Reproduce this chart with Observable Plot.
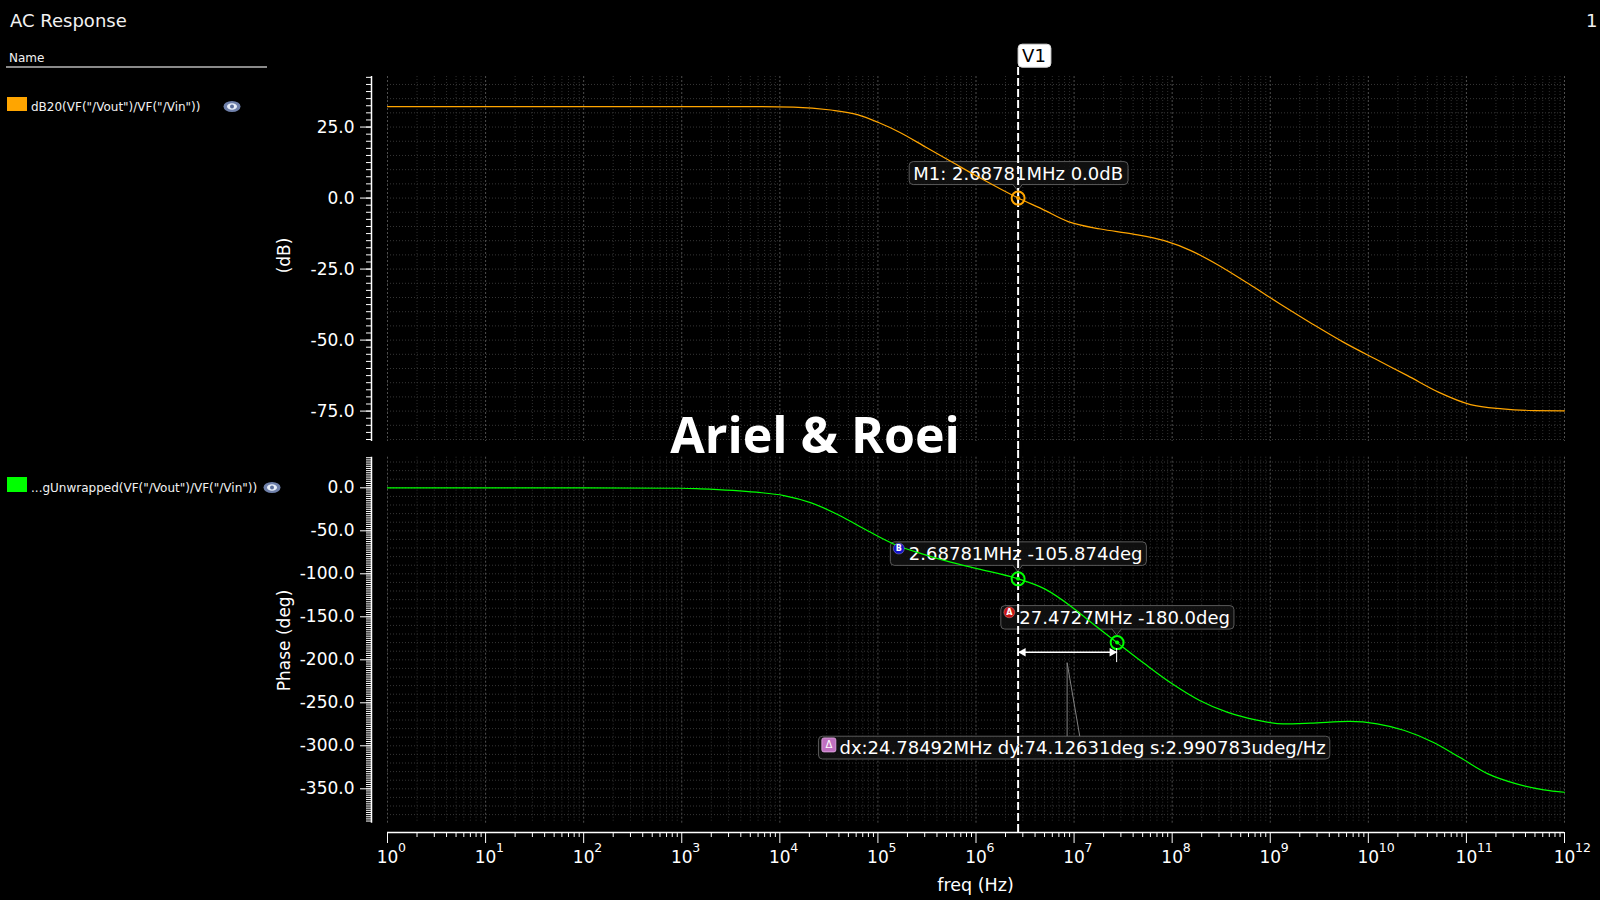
<!DOCTYPE html>
<html><head><meta charset="utf-8">
<script src="https://cdn.jsdelivr.net/npm/d3@7"></script>
<script src="https://cdn.jsdelivr.net/npm/@observablehq/plot@0.6"></script>
<style>
html,body{margin:0;padding:0;background:#000;}
#root{position:relative;width:1600px;height:900px;background:#000;overflow:hidden;font-family:"DejaVu Sans",sans-serif;color:#f2f2f2;}
.abs{position:absolute;line-height:1;white-space:nowrap;}
#top,#bottom{position:absolute;left:0;}
#top{top:0}#bottom{top:450px}
#wm{position:absolute;left:815px;top:409px;transform:translateX(-50%);font-family:"Open Sans",sans-serif;font-weight:700;font-size:50px;line-height:1;color:#fff;white-space:nowrap;}
</style></head><body>
<div id="root">
  <div id="top"></div><div id="bottom"></div>
  <div class="abs" style="left:10px;top:11.8px;font-size:18px">AC Response</div>
  <div class="abs" style="left:1586px;top:11.5px;font-size:18px">1</div>
  <div class="abs" style="left:9px;top:51.8px;font-size:12px">Name</div>
  <div style="position:absolute;left:6px;top:66px;width:261px;height:2px;background:#8a8a8a"></div>
  <div id="legend"></div>
  <div id="wm">Ariel &amp; Roei</div>
</div>
<script>
// ---------- data ----------
const magFreq = [1, 10, 100, 1e3, 3.98e3, 1.38e4, 3.31e4, 6.17e4, 1e5, 1.66e5, 3.09e5, 5.75e5, 1.07e6, 2.68781e6, 4.68e6, 8.71e6, 1.86e7, 3.89e7, 8.32e7, 1.55e8, 2.82e8, 6.03e8, 1.26e9, 2.69e9, 5.62e9, 1.17e10, 2.51e10, 5.25e10, 1.10e11, 2.34e11, 4.90e11, 1e12];
const magDb = [32.2, 32.2, 32.2, 32.2, 32.2, 32.0, 31.0, 29.4, 26.7, 23.2, 17.9, 12.6, 7.3, 0.0, -3.8, -8.3, -10.9, -12.6, -15.0, -18.5, -23.2, -30.2, -37.3, -44.3, -50.8, -56.6, -62.5, -68.4, -72.7, -74.2, -74.8, -74.9];
const phFreq = [1, 10, 100, 1e3, 1.55e3, 5.75e3, 1.1e4, 2.09e4, 4.07e4, 7.76e4, 1.48e5, 2.82e5, 5.5e5, 1.05e6, 2.68781e6, 5.01e6, 9.55e6, 1.41e7, 2.74727e7, 5.25e7, 1e8, 1.91e8, 3.63e8, 7.08e8, 1.35e9, 2.57e9, 6.46e9, 1.23e10, 2.34e10, 4.57e10, 8.71e10, 1.66e11, 3.24e11, 6.17e11, 1e12];
const phDeg = [0, 0, 0, -0.5, -1.2, -5.1, -9, -17.5, -32.2, -49.7, -65.9, -76.8, -86.5, -94.2, -105.874, -117.5, -138.8, -154.3, -180.0, -204.7, -227.9, -247.3, -260.9, -269.8, -274.5, -273.7, -271.7, -274.5, -282.2, -295.8, -314, -332.6, -344.2, -351.2, -354];

const seriesNames = ['dB20(VF("/Vout")/VF("/Vin"))', '...gUnwrapped(VF("/Vout")/VF("/Vin"))'];
const seriesColors = ["#FFA500", "#00FF00"];
const dbTicks = [25, 0, -25, -50, -75];
const phaseTicks = [0, -50, -100, -150, -200, -250, -300, -350];
const decadeExp = [0,1,2,3,4,5,6,7,8,9,10,11,12];
const yLabelTop = "(dB)";
const yLabelBottom = "Phase (deg)";
const xLabel = "freq (Hz)";

const v1 = [{label: "V1", freq: 2.68781e6}];
const m1 = [{freq: 2.68781e6, db: 0.0, text: "M1: 2.68781MHz 0.0dB"}];
const phaseMarkers = [
  {id: "B", freq: 2.68781e6, deg: -105.874, text: "2.68781MHz -105.874deg", color: "#1414c8"},
  {id: "A", freq: 27.4727e6, deg: -180.0, text: "27.4727MHz -180.0deg", color: "#c81414"}
];
const deltaLabel = [{freq: Math.sqrt(phaseMarkers[0].freq * phaseMarkers[1].freq), deg: phaseMarkers[1].deg,
  text: "dx:24.78492MHz dy:74.12631deg s:2.990783udeg/Hz"}];
const arrowData = [{x1: phaseMarkers[0].freq, x2: phaseMarkers[1].freq, y: phaseMarkers[1].deg}];

// ---------- helpers ----------
const xMajor = decadeExp.map(e => 10 ** e);
const xMinor = d3.range(0, 12).flatMap(e => d3.range(2, 10).map(k => k * 10 ** e));
const dbGrid = d3.range(40, -86, -5);
const dbMinor = d3.range(42.5, -86, -2.5);
const phGrid = d3.range(30, -390, -10);
const phMinor = d3.range(35, -390, -2.5);

function eye(left, top) {
  return `<svg style="position:absolute;left:${left}px;top:${top}px" width="18" height="13"><ellipse cx="9" cy="6.5" rx="8.5" ry="5.5" fill="#6f80aa"/><ellipse cx="9" cy="6.5" rx="5" ry="3.3" fill="#e8eef8"/><circle cx="9" cy="6.5" r="2" fill="#5a6d99"/></svg>`;
}
const legendRows = [{top: 97, textTop: 100.8, h: 14, eye: 223, eyeTop: 100}, {top: 477, textTop: 482.3, h: 15, eye: 263, eyeTop: 481}];
document.getElementById("legend").innerHTML = seriesNames.map((n, i) =>
  `<div style="position:absolute;left:7px;top:${legendRows[i].top}px;width:20px;height:${legendRows[i].h}px;background:${seriesColors[i]}"></div>` +
  `<div class="abs" style="left:31px;top:${legendRows[i].textTop}px;font-size:12px"></div>` + eye(legendRows[i].eye, legendRows[i].eyeTop)).join("");
document.querySelectorAll("#legend .abs").forEach((d, i) => d.textContent = seriesNames[i]);

const style = {background: "transparent", color: "white", fontFamily: "DejaVu Sans", fontSize: "17px", overflow: "visible"};
const gridMinor = {stroke: "#303030", strokeDasharray: "1,2"};
const gridMajor = {stroke: "#4e4e4e", strokeDasharray: "2,2"};
const gridH = {stroke: "#363636", strokeDasharray: "1,2"};

// ---------- top panel ----------
const topPlot = Plot.plot({
  width: 1600, height: 450, marginLeft: 371, marginRight: 36, marginTop: 76, marginBottom: 9,
  style,
  x: {type: "log", domain: [1, 1e12], insetLeft: 16, axis: null},
  y: {domain: [-85.7, 42.8]},
  marks: [
    Plot.ruleX(xMinor, gridMinor),
    Plot.ruleX(xMajor, gridMajor),
    Plot.ruleY(dbGrid, {insetLeft: 16, ...gridH}),
    Plot.ruleX([1], {dx: -16, stroke: "white", strokeWidth: 1.5}),
    Plot.axisY(dbMinor, {anchor: "left", tickSize: 5, tickFormat: () => "", label: null, stroke: "white"}),
    Plot.axisY(dbTicks, {anchor: "left", tickSize: 11, tickPadding: 6, tickFormat: d => d.toFixed(1), label: null, stroke: "white", fontSize: 17}),
    Plot.text([yLabelTop], {frameAnchor: "left", textAnchor: "middle", lineAnchor: "middle", rotate: -90, dx: -87, dy: -3.5, fontSize: 17, fill: "white"}),
    Plot.text(m1, {x: "freq", y: "db", text: "text", textAnchor: "middle", lineAnchor: "bottom", dy: -18, fontSize: 18, fill: "white", className: "lbl-plain"}),
    Plot.line(magFreq, {x: magFreq, y: magDb, stroke: "#FFA500", strokeWidth: 1.2, curve: "monotone-x"}),
    Plot.ruleX(v1, {x: "freq", stroke: "white", strokeWidth: 2, strokeDasharray: "8,3", insetTop: -9, insetBottom: -9}),
    Plot.dot(m1, {x: "freq", y: "db", r: 6.5, stroke: "#FFA500", strokeWidth: 2, fill: "none"}),
    Plot.dot(m1, {x: "freq", y: "db", r: 2, fill: "#FFA500"}),
    Plot.text(v1, {x: "freq", frameAnchor: "top", text: "label", textAnchor: "start", lineAnchor: "bottom", dx: 4, dy: -14.3, fontSize: 18, fill: "black", className: "lbl-white"})
  ]
});
document.getElementById("top").appendChild(topPlot);

// ---------- bottom panel ----------
const botPlot = Plot.plot({
  width: 1600, height: 450, marginLeft: 371, marginRight: 36, marginTop: 6.7, marginBottom: 68,
  style,
  x: {type: "log", domain: [1, 1e12], insetLeft: 16},
  y: {domain: [-390, 35.6], insetBottom: 9.3},
  marks: [
    Plot.ruleX(xMinor, {insetBottom: 9.3, ...gridMinor}),
    Plot.ruleX(xMajor, {insetBottom: 9.3, ...gridMajor}),
    Plot.ruleY(phGrid, {insetLeft: 16, ...gridH}),
    Plot.ruleX([1], {dx: -16, insetBottom: 9.3, stroke: "white", strokeWidth: 1.5}),
    Plot.axisY(phMinor, {anchor: "left", tickSize: 5, tickFormat: () => "", label: null, stroke: "white"}),
    Plot.axisY(phaseTicks, {anchor: "left", tickSize: 11, tickPadding: 6, tickFormat: d => d.toFixed(1), label: null, stroke: "white", fontSize: 17}),
    Plot.axisX(xMinor, {anchor: "bottom", tickSize: 5, tickFormat: () => "", label: null, stroke: "white"}),
    Plot.axisX(xMajor, {anchor: "bottom", tickSize: 11, tickFormat: () => "", label: null, stroke: "white"}),
    Plot.ruleY([-390], {dy: 9.3, insetLeft: 16, stroke: "white", strokeWidth: 1.5}),
    // tick labels: base "10" centred on the tick, exponent raised and smaller
    Plot.text(xMajor, {x: d => d, frameAnchor: "bottom", text: () => "10", textAnchor: "middle", lineAnchor: "bottom", dy: 30.3, fontSize: 17, fill: "white"}),
    Plot.text(xMajor, {x: d => d, frameAnchor: "bottom", text: (d, i) => String(decadeExp[i]), textAnchor: "start", lineAnchor: "bottom", dx: 10.5, dy: 19.7, fontSize: 12.5, fill: "white"}),
    Plot.text([xLabel], {frameAnchor: "bottom", textAnchor: "middle", lineAnchor: "middle", dy: 52.5, dx: 7.5, fontSize: 17.5, fill: "white"}),
    Plot.text([yLabelBottom], {frameAnchor: "left", textAnchor: "middle", lineAnchor: "middle", rotate: -90, dx: -87, dy: -4.4, fontSize: 17, fill: "white"}),
    Plot.text(phaseMarkers, {x: "freq", y: "deg", text: "text", textAnchor: "middle", lineAnchor: "bottom", dx: 7.5, dy: -19, fontSize: 18, fill: "white", className: "lbl-icon"}),
    Plot.text(deltaLabel, {x: "freq", y: "deg", text: "text", textAnchor: "middle", lineAnchor: "bottom", dx: 15, dy: 111.2, fontSize: 18, fill: "white", className: "lbl-delta"}),
    Plot.line(phFreq, {x: phFreq, y: phDeg, stroke: "#00FF00", strokeWidth: 1.2, curve: "monotone-x"}),
    Plot.link(arrowData, {x1: "x1", x2: "x2", y1: "y", y2: "y", stroke: "white", strokeWidth: 1.5, dy: 9.6}),
    Plot.dot(arrowData, {x: "x2", y: "y", symbol: "triangle", r: 3.2, rotate: 90, fill: "white", dx: -5, dy: 9.6}),
    Plot.dot(arrowData, {x: "x1", y: "y", symbol: "triangle", r: 3.2, rotate: -90, fill: "white", dx: 5, dy: 9.6}),
    Plot.ruleX(v1, {x: "freq", stroke: "white", strokeWidth: 2, strokeDasharray: "8,3", insetTop: -6.7}),
    Plot.dot(phaseMarkers, {x: "freq", y: "deg", r: 6.5, stroke: "#00FF00", strokeWidth: 2, fill: "none"}),
    Plot.dot(phaseMarkers, {x: "freq", y: "deg", r: 2, fill: "#00FF00"})
  ]
});
document.getElementById("bottom").appendChild(botPlot);

// ---------- label boxes & annotation decorations ----------
const NS = "http://www.w3.org/2000/svg";
function el(tag, attrs) { const e = document.createElementNS(NS, tag); for (const k in attrs) e.setAttribute(k, attrs[k]); return e; }

function decorate(svg, plot, cls, data, opt) {
  const xs = plot.scale("x");
  const texts = svg.querySelectorAll(`g.${cls} text`);
  if (!texts.length) return;
  const group = texts[0].parentNode;
  const overlay = el("g", {});
  texts.forEach((t, i) => {
    const bb = t.getBBox();
    const p = new DOMPoint(bb.x, bb.y).matrixTransform(t.getCTM());
    const x = p.x - opt.l, y = p.y - opt.t, w = bb.width + opt.l + opt.r, h = bb.height + opt.t + opt.b;
    svg.insertBefore(el("rect", {x, y, width: w, height: h, rx: 4, fill: opt.fill, "fill-opacity": opt.fo, stroke: opt.stroke, "stroke-width": 1}), group);
    if (opt.pointer) {
      const cx = xs.apply(data[i].freq), by = y + h;
      svg.insertBefore(el("path", {d: `M${cx - 5},${by - 0.5}L${cx},${by + 6}L${cx + 5},${by - 0.5}`, fill: opt.fill, "fill-opacity": opt.fo, stroke: opt.stroke}), group);
    }
    if (opt.icon === "circle") {
      overlay.appendChild(el("circle", {cx: x + 8.5, cy: y + 6.7, r: 5.5, fill: data[i].color, stroke: "#ffffff55", "stroke-width": 0.8}));
      const tx = el("text", {x: x + 8.5, y: y + 9.6, "text-anchor": "middle", "font-size": 8, "font-weight": 700, fill: "white", "font-family": "DejaVu Sans"});
      tx.textContent = data[i].id; overlay.appendChild(tx);
    } else if (opt.icon === "delta") {
      overlay.appendChild(el("rect", {x: x + 3.4, y: y + 1.7, width: 14, height: 14, rx: 2, fill: "#c070c0", stroke: "#e8b0e8", "stroke-width": 0.8}));
      const tx = el("text", {x: x + 10.4, y: y + 12, "text-anchor": "middle", "font-size": 10, fill: "white", "font-family": "DejaVu Sans"});
      tx.textContent = "Δ"; overlay.appendChild(tx);
    }
  });
  svg.appendChild(overlay);
}
decorate(topPlot, topPlot, "lbl-white", v1, {l: 4, r: 5, t: 1, b: 1, fill: "white", fo: 1, stroke: "#dddddd"});
decorate(topPlot, topPlot, "lbl-plain", m1, {l: 4, r: 5, t: 1.5, b: 0.5, fill: "#121212", fo: 0.85, stroke: "#5a5a5a", pointer: true});
decorate(botPlot, botPlot, "lbl-icon", phaseMarkers, {l: 18.5, r: 4, t: 1, b: 1.5, fill: "#121212", fo: 0.85, stroke: "#5a5a5a", pointer: true, icon: "circle"});
decorate(botPlot, botPlot, "lbl-delta", deltaLabel, {l: 21, r: 4, t: 0.6, b: 1.2, fill: "#121212", fo: 0.85, stroke: "#5a5a5a", icon: "delta"});

// delta callout pointer and the tick under marker A
{
  const xs = botPlot.scale("x"), ys = botPlot.scale("y");
  const X = xs.apply(deltaLabel[0].freq), Y = ys.apply(deltaLabel[0].deg);
  botPlot.appendChild(el("path", {d: `M${X},${Y + 94}L${X},${Y + 20.6}L${X + 12.6},${Y + 94}`, fill: "none", stroke: "#808080", "stroke-width": 1}));
  const XA = xs.apply(phaseMarkers[1].freq), YA = ys.apply(phaseMarkers[1].deg);
  botPlot.appendChild(el("path", {d: `M${XA},${YA + 6}L${XA},${YA + 20}`, stroke: "white", "stroke-width": 1}));
}
</script>
</body></html>
